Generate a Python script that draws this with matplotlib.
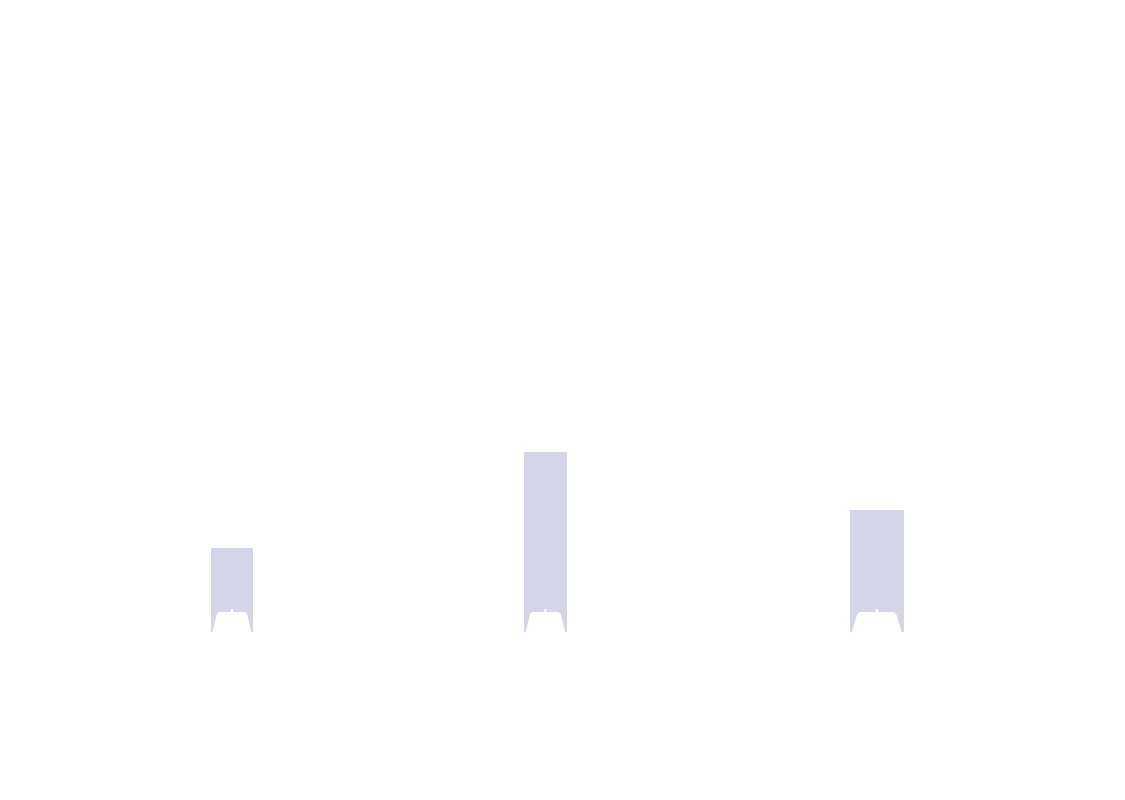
import matplotlib
matplotlib.use("Agg")
import matplotlib.pyplot as plt
from matplotlib.patches import Polygon

# Data
x_vals = [1.0, 2.0, 3.057]
values = [42, 90, 61]
widths = [0.134, 0.136, 0.172]

bar_color = "#d4d5e8"

fig = plt.figure(figsize=(11.25, 8), dpi=100)
fig.patch.set_facecolor("white")
ax = fig.add_axes([0, 0, 1, 1])
ax.set_xlim(0.26, 3.849)
ax.set_ylim(-84, 316)
ax.axis("off")

bars = ax.bar(x_vals, values, width=widths, color=bar_color, linewidth=0)

# white base silhouette at the foot of each bar (relative to bar geometry)
half = [(0.93, 0), (0.86, 3), (0.80, 5.5), (0.76, 7.5), (0.73, 8.6),
        (0.69, 9.4), (0.64, 9.85), (0.58, 10), (0.05, 10), (0.04, 11.5)]
shape = [(-fx, fy) for fx, fy in half] + [(fx, fy) for fx, fy in reversed(half)]
for b in bars:
    cx = b.get_x() + b.get_width() / 2
    hw = b.get_width() / 2
    pts = [(cx + fx * hw, fy) for fx, fy in shape]
    ax.add_patch(Polygon(pts, closed=True, facecolor="white", edgecolor="none"))

fig.savefig("out.png", dpi=100, facecolor="white")
